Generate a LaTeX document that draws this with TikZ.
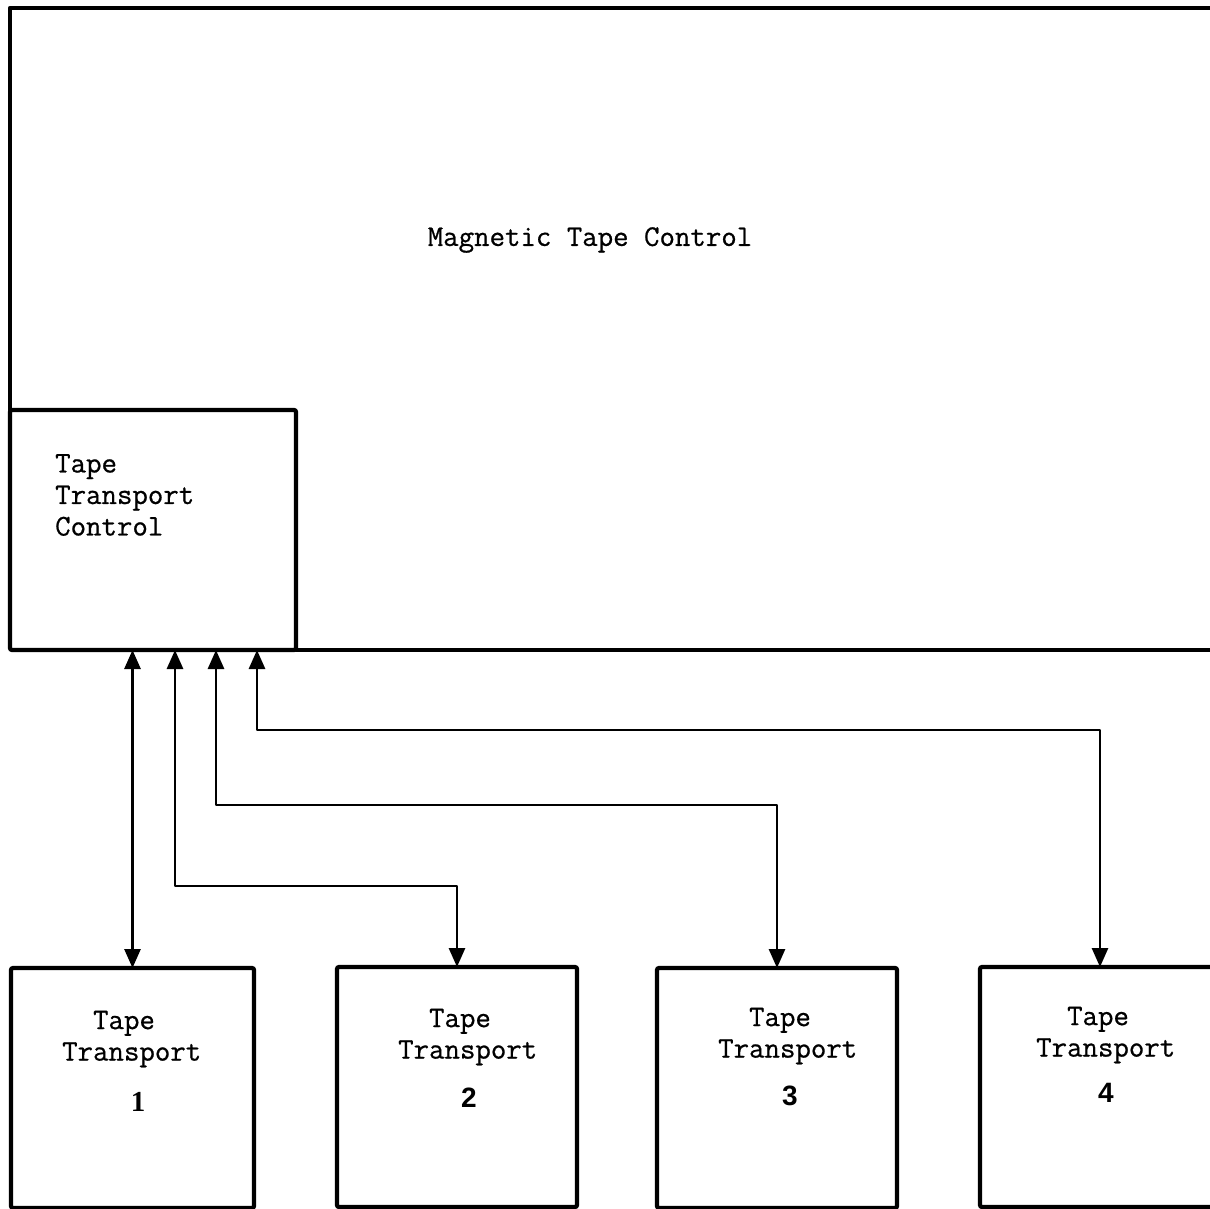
\documentclass[tikz,border=0pt]{standalone}
\usepackage{fontspec}
\usetikzlibrary{arrows.meta}
% typewriter face, slightly emboldened like a typed original
\newfontfamily\typer{Latin Modern Mono}[FakeBold=0.7]
\newfontfamily\numsans{Liberation Sans}[BoldFont={* Bold}]
\newfontfamily\numserif{Liberation Serif}[BoldFont={* Bold}]

\begin{document}
\begin{tikzpicture}[x=1pt,y=-1pt,
  frame/.style={line width=4.2pt, line join=round, line cap=round},
  block/.style={draw, line width=4.2pt, rounded corners=2pt, inner sep=0pt,
                outer sep=0pt, anchor=north west},
  unitbox/.style={block, minimum width=241pt, minimum height=240pt},
  tip/.tip={Triangle[length=19pt,width=16pt]},
  conn/.style={line width=2.8pt, line join=round, tip-tip},
  txt/.style={inner sep=0pt, font=\typer\fontsize{30}{31.5}\selectfont},
  num/.style={inner sep=0pt, font=\numsans\bfseries\fontsize{28}{28}\selectfont}
]
\useasboundingbox (0,0) rectangle (1210,1209);

% controller
\node[block, minimum width=286pt, minimum height=240pt] (ttc) at (10,410) {};
\coordinate (re) at (1220,650);
\draw[frame] (ttc.north west) -- ++(0,-402) -- (1220,8);
\draw[frame] (ttc.south east) -- (re);
\node[txt] (mtc) at (590,240) {Magnetic Tape Control};
\node[txt, anchor=west, align=left] (ttcl) at (55,495) {Tape\\Transport\\Control};

% tape transports
\node[unitbox, minimum width=243pt] (t1) at (11,968) {};
\node[unitbox, minimum width=240pt] (t2) at (337,967) {};
\node[unitbox, minimum width=240pt] (t3) at (657,968) {};
\node[unitbox, minimum width=240pt] (t4) at (980,967) {};

\node[txt, anchor=west, align=left] (l1) at (62,1039) {\phantom{Tr}Tape\\Transport};
\node[txt, anchor=west, align=left] (l2) at (398,1037) {\phantom{Tr}Tape\\Transport};
\node[txt, anchor=west, align=left] (l3) at (718,1036) {\phantom{Tr}Tape\\Transport};
\node[txt, anchor=west, align=left] (l4) at (1036,1035) {\phantom{Tr}Tape\\Transport};

\node[num, font=\numserif\bfseries\fontsize{29}{29}\selectfont] (n1) at (138,1102) {1};
\node[num] (n2) at (469,1098) {2};
\node[num] (n3) at (790,1096) {3};
\node[num] (n4) at (1106,1093) {4};

% connections from the transport control
\coordinate (p2) at (175,650);
\coordinate (p3) at (216,650);
\coordinate (p4) at (257,650);
\draw[conn] (t1.north) -- (t1.north |- ttc.south);
\draw[conn] (p2) -- ++(0,236) -| (t2.north);
\draw[conn] (p3) -- ++(0,155) -| (t3.north);
\draw[conn] (p4) -- ++(0,80) -| (t4.north);
\end{tikzpicture}
\end{document}
